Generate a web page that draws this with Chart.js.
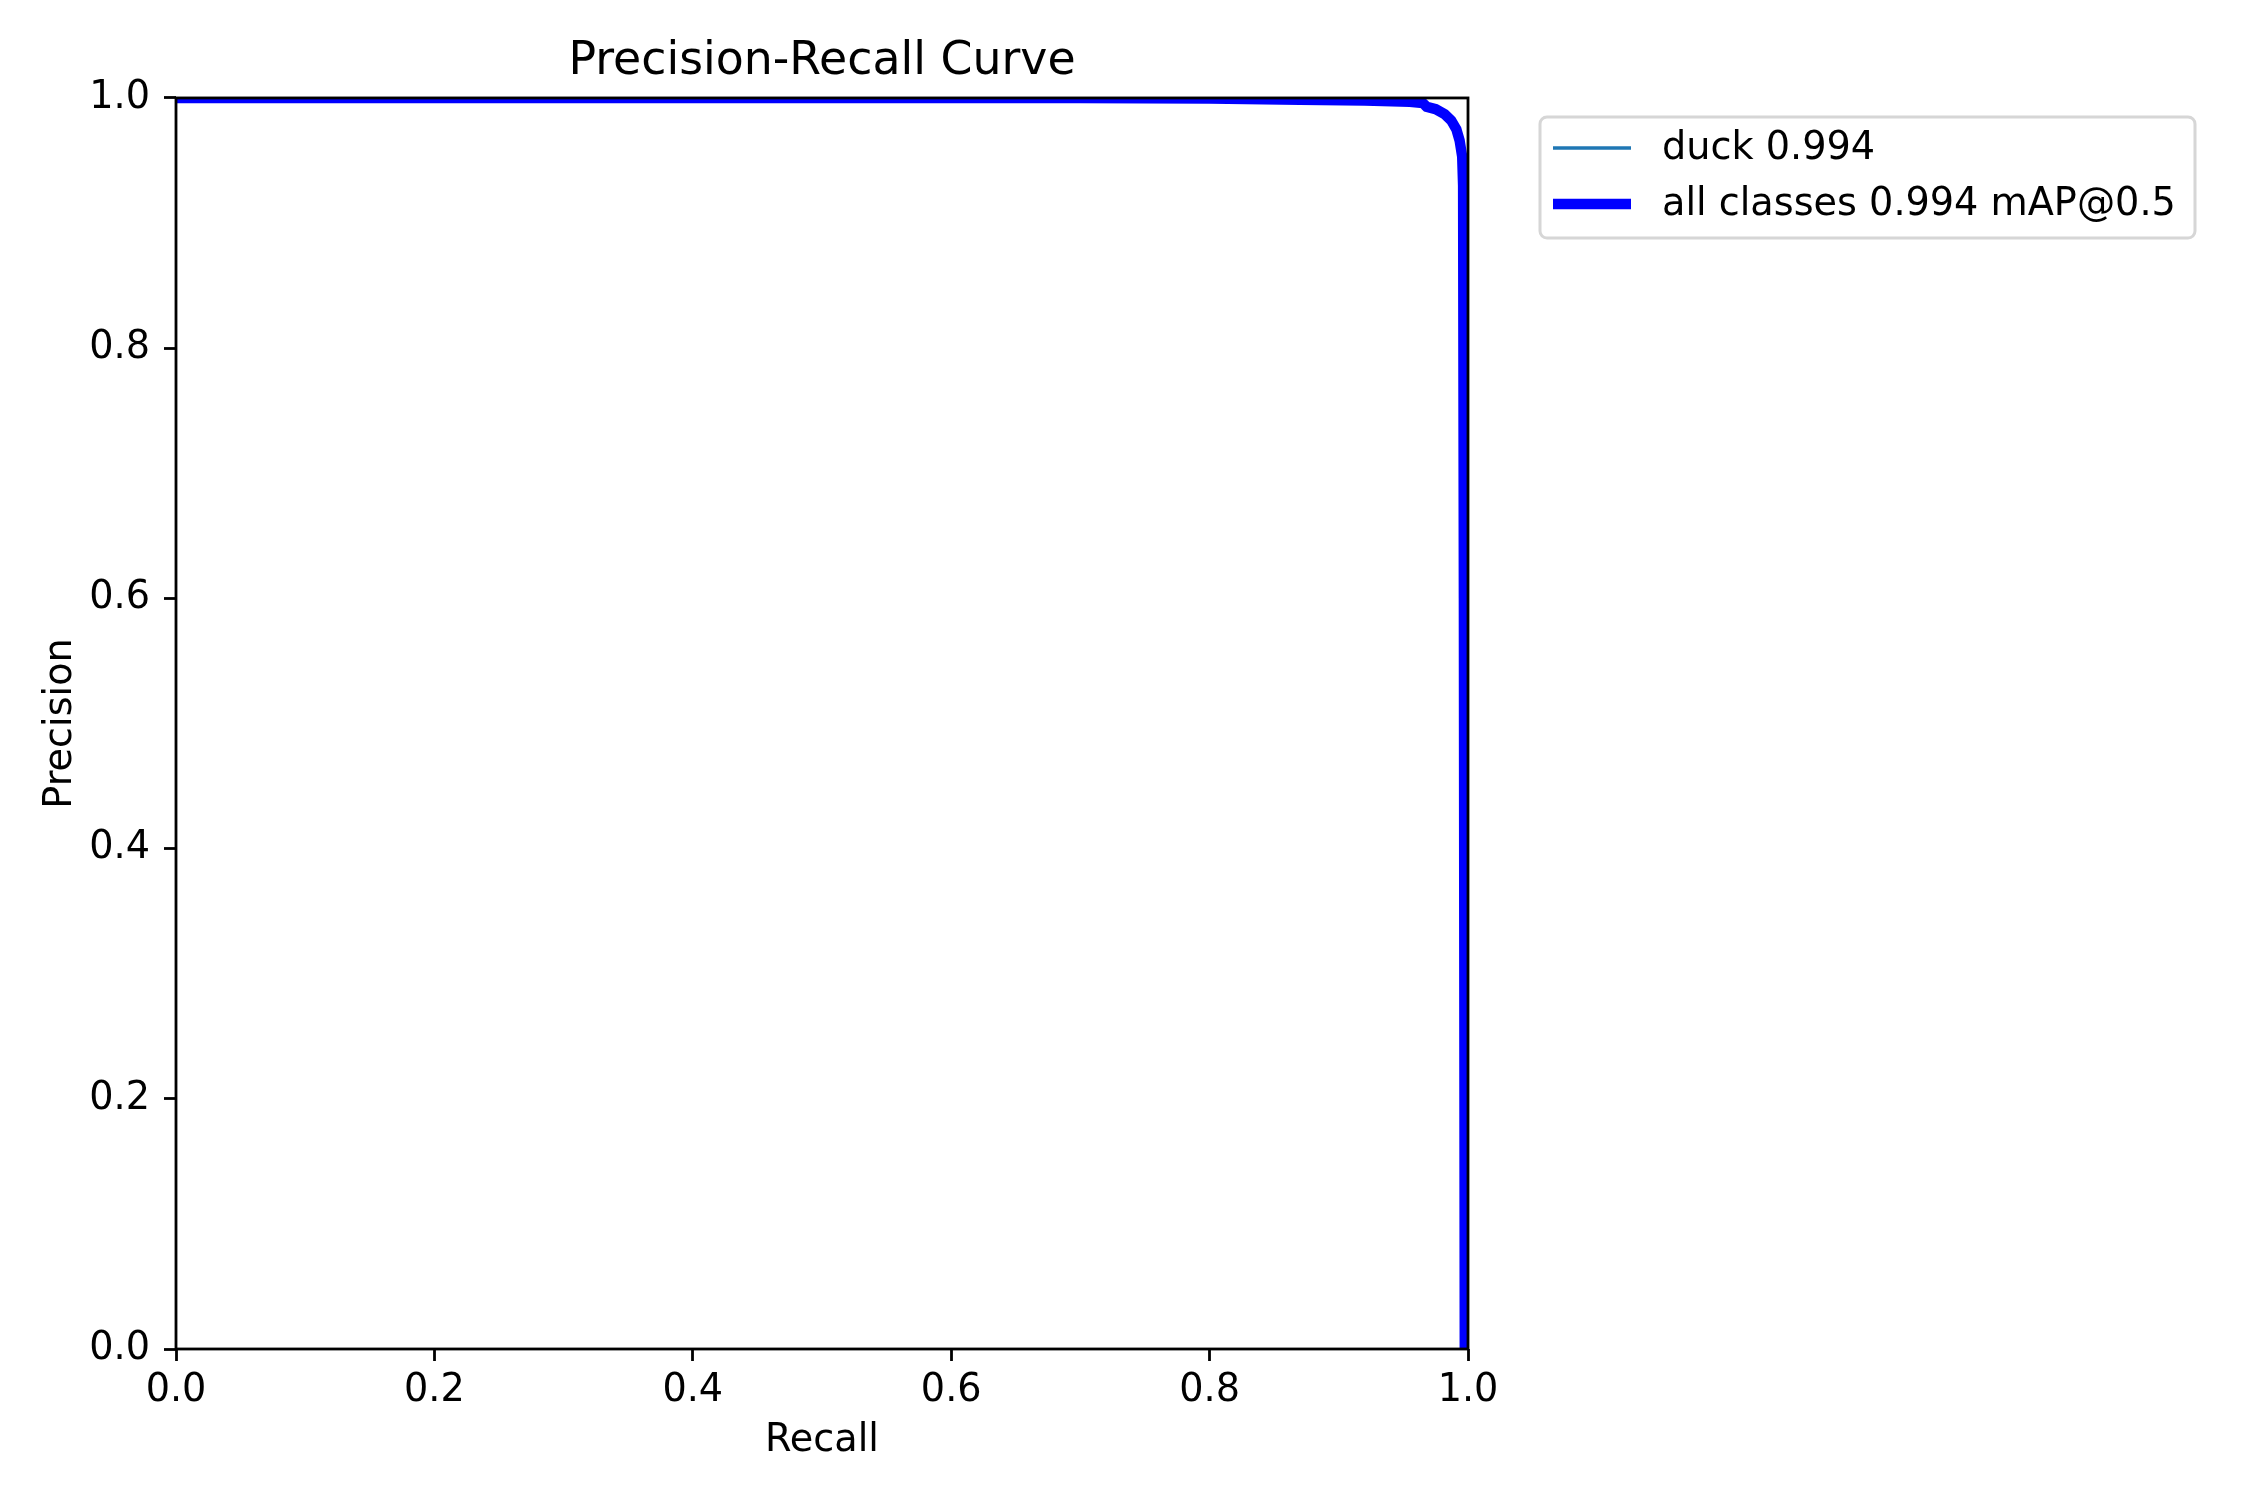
<!DOCTYPE html>
<html>
<head>
<meta charset="utf-8">
<title>Precision-Recall Curve</title>
<script src="https://cdn.jsdelivr.net/npm/chart.js@4"></script>
<style>
  html, body { margin: 0; padding: 0; background: #ffffff; }
  #wrap { width: 2250px; height: 1500px; }
</style>
</head>
<body>
<div id="wrap"><canvas id="prChart" width="2250" height="1500"></canvas></div>
<script>
// Curve values
const recallValues = [0, 0.70, 0.80, 0.87, 0.92, 0.955, 0.965, 0.968, 0.975, 0.982, 0.987, 0.991, 0.9935, 0.9955, 0.9962, 0.9968, 0.9975];
const precisionValues = [1.0, 1.0, 0.9995, 0.9985, 0.998, 0.997, 0.996, 0.993, 0.991, 0.987, 0.982, 0.975, 0.966, 0.953, 0.93, 0.6, 0.0];

const seriesLabels = ["duck 0.994", "all classes 0.994 mAP@0.5"];
const tickValues = [0, 0.2, 0.4, 0.6, 0.8, 1.0];

const fontFamily = "'DejaVu Sans', sans-serif";
const baseSize = 38.2;
const points = recallValues.map(function (r, i) {
  return { x: r, y: precisionValues[i] };
});

// Box round the plot, like the matplotlib spines
const framePlugin = {
  id: "frame",
  afterDatasetsDraw: function (chart) {
    const a = chart.chartArea;
    const ctx = chart.ctx;
    ctx.save();
    ctx.strokeStyle = "#000000";
    ctx.lineWidth = 2.8;
    ctx.strokeRect(a.left, a.top, a.right - a.left, a.bottom - a.top);
    ctx.restore();
  }
};

// Legend in a framed box to the right of the axes
const legendBoxPlugin = {
  id: "legendBox",
  afterDraw: function (chart) {
    const ctx = chart.ctx;
    const x = 1540, y = 117, w = 655, h = 121, r = 7;
    ctx.save();
    ctx.fillStyle = "rgba(255,255,255,0.8)";
    ctx.strokeStyle = "#d6d6d6";
    ctx.lineWidth = 3;
    ctx.beginPath();
    ctx.roundRect(x, y, w, h, r);
    ctx.fill();
    ctx.stroke();

    ctx.font = baseSize + "px " + fontFamily;
    ctx.textBaseline = "middle";
    ctx.textAlign = "left";
    chart.data.datasets.forEach(function (ds, i) {
      const rowY = 148 + i * 56;
      ctx.strokeStyle = ds.borderColor;
      ctx.lineWidth = ds.borderWidth;
      ctx.beginPath();
      ctx.moveTo(1553, rowY);
      ctx.lineTo(1631, rowY);
      ctx.stroke();
      ctx.fillStyle = "#000000";
      ctx.fillText(ds.label, 1662, rowY + 1);
    });
    ctx.restore();
  }
};

const axisTicks = {
  display: true,
  drawOnChartArea: false,
  drawTicks: true,
  tickLength: 12,
  tickWidth: 2.8,
  tickColor: "#000000"
};

new Chart(document.getElementById("prChart"), {
  type: "line",
  data: {
    datasets: [
      {
        label: seriesLabels[0],
        data: points,
        borderColor: "#1f77b4",
        borderWidth: 3.5,
        pointRadius: 0,
        tension: 0,
        clip: 0,
        order: 1
      },
      {
        label: seriesLabels[1],
        data: points,
        borderColor: "#0000ff",
        borderWidth: 10.4,
        pointRadius: 0,
        tension: 0,
        clip: 0,
        order: 0
      }
    ]
  },
  options: {
    responsive: false,
    animation: false,
    devicePixelRatio: 1,
    layout: {
      padding: { left: 0, right: 782, top: 0, bottom: 0 }
    },
    plugins: {
      legend: { display: false },
      tooltip: { enabled: false },
      title: {
        display: true,
        fullSize: false,
        text: "Precision-Recall Curve",
        color: "#000000",
        font: { family: fontFamily, size: 45.8, weight: "normal" },
        padding: { top: 35, bottom: 8 }
      }
    },
    scales: {
      x: {
        type: "linear",
        min: 0,
        max: 1,
        afterBuildTicks: function (scale) {
          scale.ticks = tickValues.map(function (v) { return { value: v }; });
        },
        afterFit: function (scale) {
          scale.height = 151;
        },
        grid: axisTicks,
        border: { display: false },
        ticks: {
          color: "#000000",
          padding: 7,
          maxRotation: 0,
          font: { family: fontFamily, size: baseSize },
          callback: function (v) { return Number(v).toFixed(1); }
        },
        title: {
          display: true,
          text: "Recall",
          color: "#000000",
          font: { family: fontFamily, size: baseSize },
          padding: { top: 0, bottom: 36 }
        }
      },
      y: {
        type: "linear",
        min: 0,
        max: 1,
        afterBuildTicks: function (scale) {
          scale.ticks = tickValues.map(function (v) { return { value: v }; });
        },
        afterFit: function (scale) {
          scale.width = 176;
        },
        grid: axisTicks,
        border: { display: false },
        ticks: {
          color: "#000000",
          padding: 14,
          font: { family: fontFamily, size: baseSize },
          callback: function (v) { return Number(v).toFixed(1); }
        },
        title: {
          display: true,
          text: "Precision",
          color: "#000000",
          font: { family: fontFamily, size: baseSize },
          padding: { top: 38, bottom: 0 }
        }
      }
    }
  },
  plugins: [framePlugin, legendBoxPlugin]
});
</script>
</body>
</html>
